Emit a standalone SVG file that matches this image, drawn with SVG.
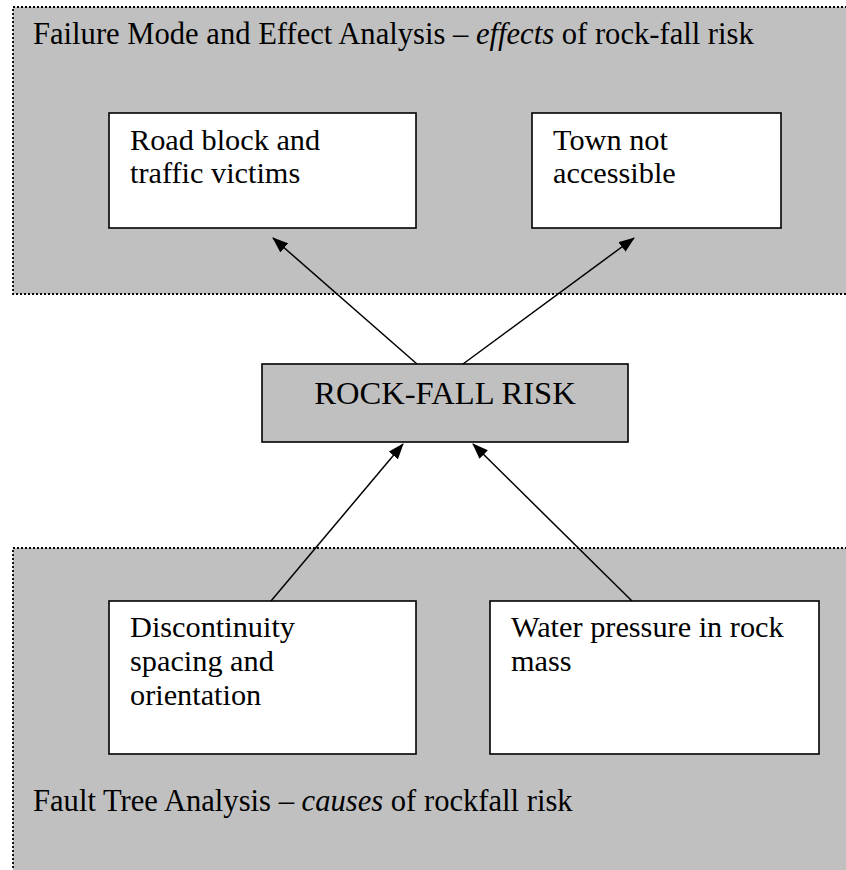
<svg xmlns="http://www.w3.org/2000/svg" width="846" height="870" viewBox="0 0 846 870">
<defs>
<style>
.band{fill:#c0c0c0;stroke:#000;stroke-width:1.8;stroke-dasharray:2 2}
.box{fill:#fff;stroke:#000;stroke-width:1.6}
.gbox{fill:#c0c0c0;stroke:#000;stroke-width:1.6}
.t{font-family:"Liberation Serif","Times New Roman",serif;font-size:30.3px;fill:#000}
.h{font-family:"Liberation Serif","Times New Roman",serif;font-size:30.6px;fill:#000}
.c{stroke:#000;stroke-width:1.5;fill:none;marker-end:url(#ah)}
</style>
<marker id="ah" markerUnits="userSpaceOnUse" markerWidth="16" markerHeight="12" refX="15" refY="6" orient="auto">
<path d="M0,0 L16,6 L0,12 z" fill="#000"/>
</marker>
</defs>
<g id="fmea-band">
<rect class="band" x="13" y="7" width="845" height="287"/>
<text class="h" x="33" y="44">Failure Mode and Effect Analysis – <tspan font-style="italic">effects</tspan> of rock-fall risk</text>
</g>
<g id="fta-band">
<rect class="band" x="13" y="548" width="845" height="335"/>
<text class="h" x="33" y="811">Fault Tree Analysis – <tspan font-style="italic">causes</tspan> of rockfall risk</text>
</g>
<g id="road-block">
<rect class="box" x="109" y="113" width="307" height="115"/>
<text class="t" x="130" y="150">Road block and</text>
<text class="t" x="130" y="183">traffic victims</text>
</g>
<g id="town">
<rect class="box" x="532" y="113" width="249" height="115"/>
<text class="t" x="553" y="150">Town not</text>
<text class="t" x="553" y="183">accessible</text>
</g>
<g id="rockfall-risk">
<rect class="gbox" x="262" y="364" width="366" height="78"/>
<text x="445" y="404" text-anchor="middle" style="font-family:'Liberation Serif','Times New Roman',serif;font-size:32.6px">ROCK-FALL RISK</text>
</g>
<g id="discontinuity">
<rect class="box" x="109" y="601" width="307" height="153"/>
<text class="t" x="130" y="637">Discontinuity</text>
<text class="t" x="130" y="671">spacing and</text>
<text class="t" x="130" y="705">orientation</text>
</g>
<g id="water-pressure">
<rect class="box" x="490" y="601" width="329" height="153"/>
<text class="t" x="511" y="637">Water pressure in rock</text>
<text class="t" x="511" y="671">mass</text>
</g>
<g id="connectors">
<line class="c" x1="417" y1="364" x2="273" y2="238"/>
<line class="c" x1="463" y1="364" x2="634" y2="238"/>
<line class="c" x1="271" y1="601" x2="403" y2="444"/>
<line class="c" x1="632" y1="601" x2="473" y2="444"/>
</g>
</svg>
